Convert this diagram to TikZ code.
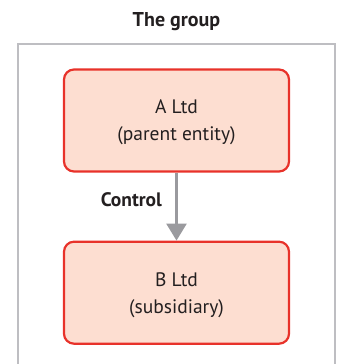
\documentclass[tikz,border=0pt]{standalone}
\usepackage{fontspec}
\setmainfont{PT Sans}
\usepackage{xcolor}
\usepackage{tikz}
\usetikzlibrary{positioning,arrows.meta}

\definecolor{entityred}{HTML}{E8322A}
\definecolor{entityfill}{HTML}{FDDED1}
\definecolor{groupgrey}{HTML}{BEBEC2}
\definecolor{arrowgrey}{HTML}{9A9A9E}
\definecolor{textdark}{HTML}{231F20}

\tikzset{
  entity/.style = {draw = entityred, line width = 2.2pt, fill = entityfill,
                   rounded corners = 10pt, minimum width = 225pt,
                   minimum height = 102pt, align = center, text = textdark,
                   text depth = 0pt,
                   font = \fontsize{19.5}{27}\selectfont},
  ctrl/.style = {draw = arrowgrey, line width = 2.5pt,
                 -{Triangle[width = 20pt, length = 17pt]}},
  heading/.style = {text = textdark, font = \fontsize{20}{22}\selectfont\bfseries}
}

\begin{document}
\begin{tikzpicture}[x = 1pt, y = 1pt]
              \useasboundingbox (0,0) rectangle (339,-364);
              \clip (0,0) rectangle (339,-364);

              % the group
              \node[heading] (g) at (176.5,-22) {The group};
              \draw[groupgrey, line width = 2pt] (17.5,-44) rectangle (334.5,-380);

              % entities
              \node[entity] (a) at (176.5,-120.5) {A Ltd\\(parent entity)};
              \node[entity, below = 68pt of a] (b) {B Ltd\\(subsidiary)};

              \draw[ctrl] (a) -- node[pos = 0.4, left = 10pt, heading,
                font = \fontsize{19.5}{22}\selectfont\bfseries] {Control} (b);
            \end{tikzpicture}
\end{document}
